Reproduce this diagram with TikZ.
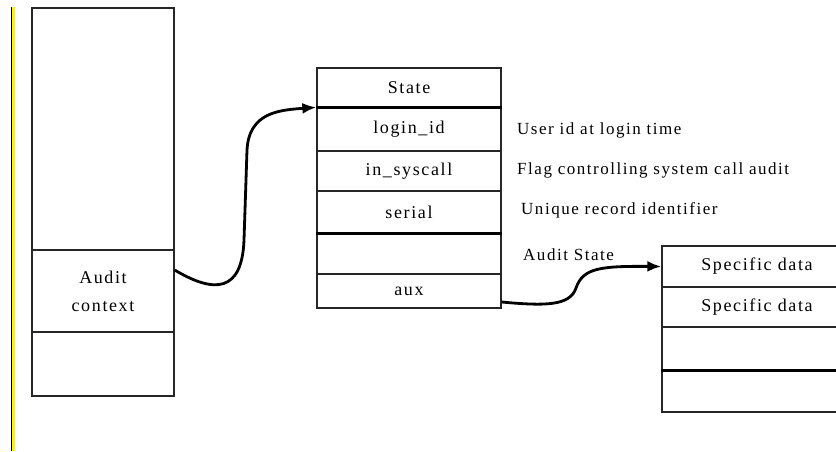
\documentclass[tikz,border=0pt]{standalone}
\usepackage{fontspec}
\setmainfont{Liberation Serif}[LetterSpace=9]
\usepackage{tikz}
\usetikzlibrary{arrows.meta,positioning}

\begin{document}
\begin{tikzpicture}[
  x=1pt, y=-1pt,
  cell/.style={draw=black!85, line width=1.3pt, inner sep=0pt, font=\fontsize{18}{20}\selectfont},
  ctxcell/.style={cell, minimum width=142pt},
  statecell/.style={cell, minimum width=184pt},
  datacell/.style={cell, minimum width=190pt},
  sep/.style={draw=black, line width=3pt},
  link/.style={draw=black, line width=2.8pt, -{Latex[length=14pt,width=11pt]}},
  note/.style={anchor=west, inner sep=0pt, font=\fontsize{17}{19}\selectfont}
]
  \useasboundingbox (0,0) rectangle (836,451);
  \clip (0,0) rectangle (836,451);
  \fill[white] (0,0) rectangle (836,451);

  % Margin bar
  \fill[yellow] (12,7) rectangle (15,451);
  \draw[black, line width=1pt] (11.5,7) -- (11.5,451);

  % Draw task structure
  \node[ctxcell, minimum height=242pt] (task) at (103,129) {};
  \node[ctxcell, minimum height=82pt, align=center, font=\fontsize{18}{28}\selectfont] (ctx) at (103,291) {Audit\\context};
  \node[ctxcell, minimum height=64pt] (tail) at (103,364) {};

  % Draw audit context
  \node[statecell, minimum height=40pt] (state) at (409,88) {State};
  \node[statecell, minimum height=43pt] (login) at (409,129.5) {login\_id};
  \node[statecell, minimum height=40pt] (insys) at (409,171) {in\_syscall};
  \node[statecell, minimum height=42pt] (serial) at (409,212) {serial};
  \node[statecell, minimum height=41pt] (blank) at (409,253.5) {};
  \node[statecell, minimum height=34pt] (aux) at (409,291) {aux};
  \draw[sep] (login.north west) -- (login.north east);
  \draw[sep] (serial.south west) -- (serial.south east);

  % Field notes
  \node[note] (n1) at (517,130) {User id at login time};
  \node[note] (n2) at (517,170) {Flag controlling system call audit};
  \node[note] (n3) at (521,210) {Unique record identifier};
  \node[note] (n4) at (523,255) {Audit State};

  % Draw specific data
  \node[datacell, minimum height=41pt] (sd1) at (757,266.5) {Specific data};
  \node[datacell, minimum height=40pt] (sd2) at (757,307) {Specific data};
  \node[datacell, minimum height=43pt] (sd3) at (757,348.5) {};
  \node[datacell, minimum height=42pt] (sd4) at (757,391) {};
  \draw[sep] (sd3.south west) -- (sd3.south east);

  % Pointers
  \draw[link] ([yshift=21pt]ctx.east) .. controls (215,294) and (242,292) .. (244,240)
    -- (247,150) .. controls (249,112) and (280,110) .. (login.north west);
  \draw[link] ([yshift=-11pt]aux.east) .. controls (545,306) and (570,306) .. (576,288)
    .. controls (583,268) and (600,266) .. (sd1.west);
\end{tikzpicture}
\end{document}
